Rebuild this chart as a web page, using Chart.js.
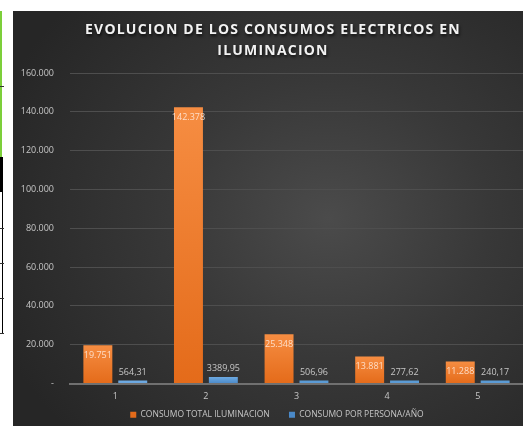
<!DOCTYPE html>
<html>
<head>
<meta charset="utf-8">
<script src="https://cdn.jsdelivr.net/npm/chart.js@4.4.0/dist/chart.umd.min.js"></script>
<style>
    html, body { margin: 0; padding: 0; background: #fff; }
    body { width: 526px; height: 426px; position: relative; overflow: hidden; }
    #panel {
        position: absolute; left: 13px; top: 11px; width: 510px; height: 415px;
        background: radial-gradient(ellipse 70% 75% at 62% 50%, #4b4b4b 0%, #383838 45%, #262626 100%);
    }
    .mark { position: absolute; }
</style>
</head>
<body>
<!-- bits of the spreadsheet left of the chart -->
<div class="mark" style="left:0;top:11px;width:2px;height:146px;background:#7ccf3a"></div>
<div class="mark" style="left:0;top:86px;width:4px;height:1px;background:#333"></div>
<div class="mark" style="left:0;top:157px;width:3px;height:35px;background:#000"></div>
<div class="mark" style="left:2px;top:192px;width:1px;height:142px;background:#000"></div>
<div class="mark" style="left:0;top:228px;width:4px;height:1px;background:#333"></div>
<div class="mark" style="left:0;top:263px;width:4px;height:1px;background:#333"></div>
<div class="mark" style="left:0;top:298px;width:4px;height:1px;background:#333"></div>
<div class="mark" style="left:0;top:333px;width:4px;height:1px;background:#333"></div>
<div id="panel"><canvas id="chart" width="510" height="415"></canvas></div>
<script>
const categories = ["1", "2", "3", "4", "5"];
const consumoTotal = [19751, 142378, 25348, 13881, 11288];
const consumoPersona = [564.31, 3389.95, 506.96, 277.62, 240.17];
const totalLabels = ["19.751", "142.378", "25.348", "13.881", "11.288"];
const personaLabels = ["564,31", "3389,95", "506,96", "277,62", "240,17"];
const titleLines = ["EVOLUCION DE LOS CONSUMOS ELECTRICOS EN", "ILUMINACION"];
const yMax = 160000;
const yStep = 20000;

function barGradient(top, bottom, fallback) {
    return function (ctx) {
        var chart = ctx.chart;
        if (!chart.chartArea || ctx.type !== "data") return fallback;
        var y = chart.scales.y;
        var y0 = y.getPixelForValue(ctx.raw);
        var y1 = y.getPixelForValue(0);
        if (!isFinite(y0) || y1 - y0 < 1) return fallback;
        var g = chart.ctx.createLinearGradient(0, y0, 0, y1);
        g.addColorStop(0, top);
        g.addColorStop(1, bottom);
        return g;
    };
}

// title with spacing and a soft shadow
const titlePlugin = {
    id: "titleDraw",
    afterDraw: function (chart) {
        var ctx = chart.ctx;
        ctx.save();
        ctx.font = "bold 14px 'Open Sans'";
        ctx.letterSpacing = "1.2px";
        ctx.textAlign = "center";
        ctx.textBaseline = "middle";
        ctx.fillStyle = "#f2f2f2";
        ctx.shadowColor = "rgba(0,0,0,0.7)";
        ctx.shadowOffsetX = 1;
        ctx.shadowOffsetY = 2;
        ctx.shadowBlur = 3;
        titleLines.forEach(function (line, i) {
            ctx.fillText(line, 260, 19 + i * 21);
        });
        ctx.restore();
    },
};

// value labels: orange inside the top, blue above the bar
const labelPlugin = {
    id: "valueLabels",
    afterDatasetsDraw: function (chart) {
        var ctx = chart.ctx;
        ctx.save();
        ctx.font = "9px 'Open Sans'";
        ctx.textAlign = "center";
        ctx.textBaseline = "middle";
        chart.getDatasetMeta(0).data.forEach(function (bar, i) {
            ctx.fillStyle = "rgba(255,232,218,0.88)";
            ctx.fillText(totalLabels[i], bar.x, bar.y + 10);
        });
        chart.getDatasetMeta(1).data.forEach(function (bar, i) {
            ctx.fillStyle = "#c6c6c6";
            ctx.fillText(personaLabels[i], bar.x, bar.y - 8);
        });
        ctx.restore();
    },
};

// legend in the original sits a little right of centre
const legendShift = {
    id: "legendShift",
    afterLayout: function (chart) {
        if (!chart.legend) return;
        chart.legend.left += 9;
        chart.legend.right += 9;
    },
};

const ctx = document.getElementById("chart").getContext("2d");
const chart = new Chart(ctx, {
    type: "bar",
    data: {
        labels: categories,
        datasets: [
            {
                label: "CONSUMO TOTAL ILUMINACION",
                data: consumoTotal,
                backgroundColor: barGradient("#f68d42", "#e46b1a", "#ed7d31"),
                categoryPercentage: 0.77,
                barPercentage: 0.83,
            },
            {
                label: "CONSUMO POR PERSONA/AÑO",
                data: consumoPersona,
                backgroundColor: barGradient("#6eaae2", "#4a89c8", "#5b9bd5"),
                categoryPercentage: 0.77,
                barPercentage: 0.83,
                minBarLength: 3,
            },
        ],
    },
    options: {
        responsive: false,
        animation: false,
        devicePixelRatio: 1,
        layout: { padding: { top: 62, right: 0, left: 0, bottom: -3 } },
        plugins: {
            title: { display: false },
            tooltip: { enabled: false },
            legend: {
                position: "bottom",
                labels: {
                    color: "#c6c6c6",
                    font: { family: "'Open Sans'", size: 8.5 },
                    boxWidth: 6,
                    boxHeight: 6,
                    padding: 6,
                    generateLabels: function (chart) {
                        var items = Chart.defaults.plugins.legend.labels.generateLabels(chart);
                        // wider gap after the first entry, like the original
                        items[0].text = items[0].text + "      ";
                        return items;
                    },
                },
            },
        },
        scales: {
            x: {
                grid: { display: false, drawTicks: false },
                border: { display: true, color: "#707070", width: 2 },
                ticks: { color: "#c6c6c6", font: { family: "'Open Sans'", size: 9 }, padding: 8 },
                afterFit: function (axis) { axis.height = 21; },
            },
            y: {
                min: 0,
                max: yMax,
                grid: { color: "#4e4e4e", lineWidth: 1, drawTicks: false },
                border: { display: false },
                ticks: {
                    stepSize: yStep,
                    color: "#c6c6c6",
                    font: { family: "'Open Sans'", size: 9 },
                    padding: 16,
                    callback: function (v) {
                        if (v === 0) return "-";
                        return v.toLocaleString("de-DE");
                    },
                },
                afterFit: function (axis) { axis.width = 57; },
            },
        },
    },
    plugins: [titlePlugin, labelPlugin, legendShift],
});
</script>
</body>
</html>
